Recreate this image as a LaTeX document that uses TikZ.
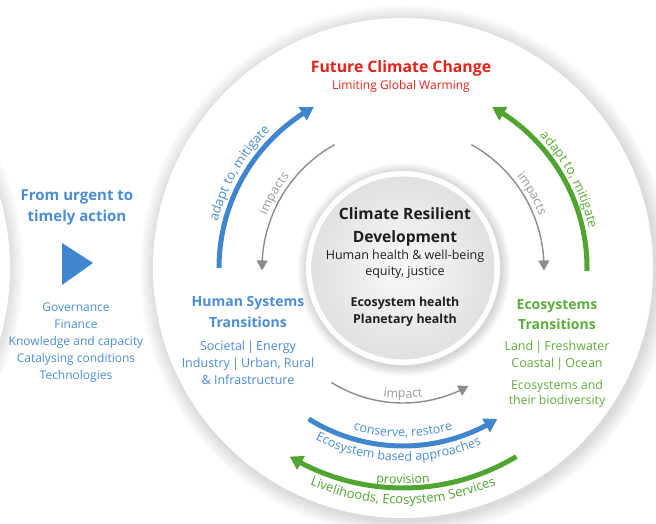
\documentclass[tikz,border=0pt]{standalone}
\usepackage{fontspec}
\setmainfont{Open Sans}
\usetikzlibrary{arrows.meta,decorations.text,bending,calc}
\definecolor{cblue}{HTML}{4A8DD4}
\definecolor{ablue}{HTML}{3F86CF}
\definecolor{cgreen}{HTML}{5BAE3A}
\definecolor{agreen}{HTML}{4FA52F}
\definecolor{cred}{HTML}{E2231A}
\definecolor{cgray}{HTML}{8C8C8C}
\definecolor{tgray}{HTML}{9A9A9A}
\definecolor{ctext}{HTML}{1E1E1E}
\tikzset{
  bluearrow/.style={draw=ablue,line width=5pt,-{Triangle[width=15pt,length=13pt]}},
  greenarrow/.style={draw=agreen,line width=5pt,-{Triangle[width=15pt,length=13pt]}},
  grayarrow/.style={draw=cgray,line width=1.4pt,-{Triangle[width=11pt,length=10pt]}},
  lbl/.style={align=center,inner sep=0pt},
  arctext/.style={decorate,decoration={text along path,text align=center,text color=#1}},
}
\begin{document}
\begin{tikzpicture}[x=1pt,y=1pt]
\useasboundingbox (0,0) rectangle (656,524);
\clip (0,0) rectangle (656,524);
\fill[white] (0,0) rectangle (656,524);
\coordinate (C) at (403,256);
\coordinate (L) at (-240,256);
% left partial disk
\foreach \i in {1,...,10} \fill[black,opacity=0.012] ($(L)+(1,-1.5)$) circle ({250+1.3*\i});
\fill[white] (L) circle (250);
% big disk
\foreach \i in {1,...,12} \fill[black,opacity=0.013] ($(C)+(2,-2.5)$) circle ({250+1.3*\i});
\fill[white] (C) circle (250);
% inner circle
\foreach \i in {1,...,8} \fill[black,opacity=0.018] ($(C)+(1,-1.5)$) circle ({97+1.2*\i});
\fill[white] (C) circle (97);
\shade[inner color=gray!4,outer color=gray!24] (C) circle (91.5);

% arrows
\draw[bluearrow] (C) ++(180:184) arc[start angle=180,end angle=119,radius=184];
\draw[greenarrow] (C) ++(-1:184) arc[start angle=-1,end angle=61,radius=184];
\draw[grayarrow] (C) ++(119:141) arc[start angle=119,end angle=181,radius=141];
\draw[grayarrow] (C) ++(61:141) arc[start angle=61,end angle=-1,radius=141];
\draw[grayarrow] (C) ++(238:135) arc[start angle=238,end angle=299,radius=135];
\draw[bluearrow] (C) ++(238:178) arc[start angle=238,end angle=302,radius=178];
\draw[greenarrow] (C) ++(301:220) arc[start angle=301,end angle=239,radius=220];

% arc texts
\path[arctext=cblue,decoration={text={|\fontsize{13}{15}\selectfont|adapt to{,} mitigate}}]
  (C) ++(200:191) arc[start angle=200,end angle=100,radius=191];
\path[arctext=cgreen,decoration={text={|\fontsize{13}{15}\selectfont|adapt to{,} mitigate}}]
  (C) ++(78:190) arc[start angle=78,end angle=-22,radius=190];
\path[arctext=tgray,decoration={text={|\fontsize{12.5}{14}\selectfont|impacts}}]
  (C) ++(190:146) arc[start angle=190,end angle=110,radius=146];
\path[arctext=tgray,decoration={text={|\fontsize{12.5}{14}\selectfont|impacts}}]
  (C) ++(70:146) arc[start angle=70,end angle=-10,radius=146];
\path[arctext=tgray,decoration={text={|\fontsize{12.5}{14}\selectfont|impact}}]
  (C) ++(230:130) arc[start angle=230,end angle=310,radius=130];
\path[arctext=cblue,decoration={text={|\fontsize{12.5}{14}\selectfont|conserve{,} restore}}]
  (C) ++(230:169) arc[start angle=230,end angle=310,radius=169];
\path[arctext=cblue,decoration={text={|\fontsize{12.5}{14}\selectfont|Ecosystem based approaches}}]
  (C) ++(222.5:193) arc[start angle=222.5,end angle=314.5,radius=193];
\path[arctext=agreen,decoration={text={|\fontsize{12.5}{14}\selectfont|provision}}]
  (C) ++(230:216) arc[start angle=230,end angle=310,radius=216];
\path[arctext=agreen,decoration={text={|\fontsize{13}{15}\selectfont|Livelihoods{,} Ecosystem Services}}]
  (C) ++(224:236) arc[start angle=224,end angle=316,radius=236];

% titles
\node[lbl,text=cred,font=\fontsize{15.8}{20}\selectfont\bfseries] (fcc) at (401,456) {Future Climate Change};
\node[lbl,text=cred,font=\fontsize{12}{14}\selectfont] (lgw) at (401,438) {Limiting Global Warming};

% left block
\node[lbl,text=cblue,font=\fontsize{15}{21}\selectfont\bfseries] (urgent) at (77,317) {From urgent to\\timely action};
\fill[ablue] (62,281) -- (93,261) -- (62,239) -- cycle;
\node[lbl,text=cblue,font=\fontsize{12}{17}\selectfont] (enablers) at (76,181) {Governance\\Finance\\Knowledge and capacity\\Catalysing conditions\\Technologies};

% centre
\node[lbl,text=ctext,font=\fontsize{15.6}{23}\selectfont\bfseries] (crd) at (405,297.5) {Climate Resilient\\Development};
\node[lbl,text=ctext,font=\fontsize{12.5}{16}\selectfont] (hh) at (405,260) {Human health \& well-being\\equity, justice};
\node[lbl,text=ctext,font=\fontsize{12.4}{17}\selectfont\bfseries] (eh) at (405,212.5) {Ecosystem health\\Planetary health};

% human systems
\node[lbl,text=cblue,font=\fontsize{14}{21}\selectfont\bfseries] (hst) at (248,211.5) {Human Systems\\Transitions};
\node[lbl,text=cblue,font=\fontsize{12.5}{17}\selectfont] (hsd) at (248,161) {Societal\,|\,Energy\\Industry\,|\,Urban, Rural\\\& Infrastructure};

% ecosystems
\node[lbl,text=cgreen,font=\fontsize{14}{19.5}\selectfont\bfseries] (est) at (557,209.5) {Ecosystems\\Transitions};
\node[lbl,text=cgreen,font=\fontsize{12.5}{17}\selectfont] (esd) at (557,168.5) {Land\,|\,Freshwater\\Coastal\,|\,Ocean};
\node[lbl,text=cgreen,font=\fontsize{12.3}{15}\selectfont] (esb) at (557,130) {Ecosystems and\\their biodiversity};
\end{tikzpicture}
\end{document}
